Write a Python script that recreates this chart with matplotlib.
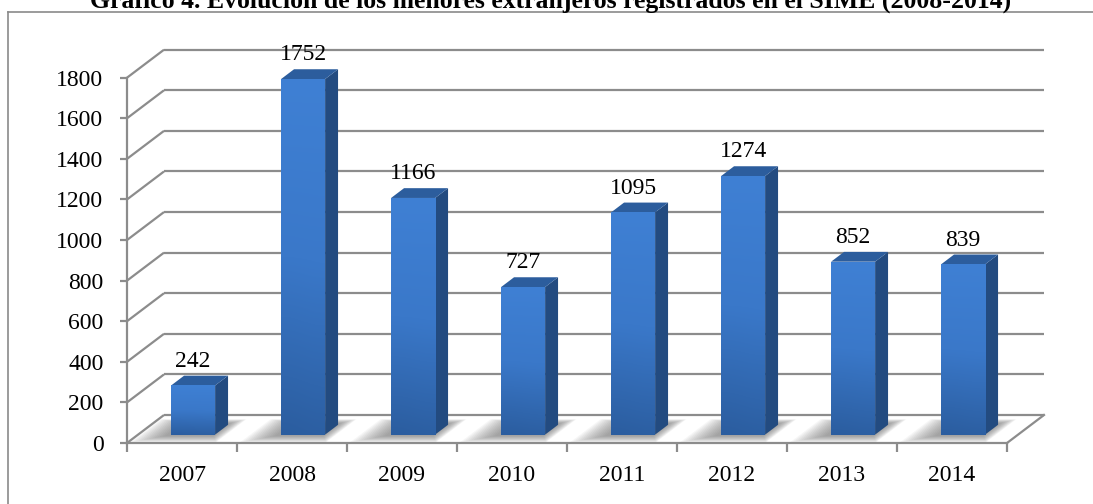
import numpy as np
import matplotlib
matplotlib.use('Agg')
import matplotlib.pyplot as plt
from matplotlib.patches import Polygon
from matplotlib.lines import Line2D
from matplotlib.colors import LinearSegmentedColormap

# ---- data ----
years = ['2007', '2008', '2009', '2010', '2011', '2012', '2013', '2014']
values = [242, 1752, 1166, 727, 1095, 1274, 852, 839]
yticks = [0, 200, 400, 600, 800, 1000, 1200, 1400, 1600, 1800]
title = 'Gráfico 4. Evolución de los menores extranjeros registrados en el SIME (2008-2014)'

# ---- figure / axes ----
W, H = 1093, 504
fig = plt.figure(figsize=(W / 100, H / 100), dpi=100)
fig.patch.set_facecolor('white')
ax_l, ax_r, ax_b, ax_t = 127, 1007, 443, 77.7
ax = fig.add_axes([ax_l / W, (H - ax_b) / H, (ax_r - ax_l) / W, (ax_b - ax_t) / H])
n = len(years)
ymax = yticks[-1]
ax.set_xlim(0, n)
ax.set_ylim(0, ymax)
ax.set_facecolor('none')

px_x = n / (ax_r - ax_l)          # data units per pixel (x)
px_y = ymax / (ax_b - ax_t)       # data units per pixel (y)
DX = 37 * px_x                    # depth offset
DY = 28 * px_y

grid_c = '#8c8c8c'
glw = 1.6


def P(x, f, v):
    return (x + f * DX, v + f * DY)


# floor
floor = Polygon([P(0, 0, 0), P(n, 0, 0), P(n, 1, 0), P(0, 1, 0)], closed=True,
                facecolor='white', edgecolor='none', zorder=1, clip_on=False)
ax.add_patch(floor)
ax.add_line(Line2D(*zip(P(n, 0, 0), P(n, 1, 0)), color=grid_c, lw=glw, zorder=2, clip_on=False))

# walls gridlines
for v in yticks:
    ax.add_line(Line2D(*zip(P(0, 0, v), P(0, 1, v)), color=grid_c, lw=glw, zorder=2, clip_on=False,
                       solid_capstyle='butt'))
    ax.add_line(Line2D(*zip(P(0, 1, v), P(n, 1, v)), color=grid_c, lw=glw, zorder=2, clip_on=False,
                       solid_capstyle='butt'))

# bars
bw = 0.4
f0, f1 = 0.30, 0.65
front_cmap = LinearSegmentedColormap.from_list('fr', ['#2b5d9f', '#3a78c9', '#3f80d4'])
for i, v in enumerate(values):
    cx = i + 0.5
    x0, x1 = cx - bw / 2, cx + bw / 2
    # shadow on floor
    N = 14
    for k in range(N):
        t = k / (N - 1)
        xa = x0 - (0.04 + 0.24 * t)
        xb = x1 + (0.0 + 0.10 * t)
        fa = max(0.0, f0 - 0.05 - 0.22 * t)
        fb = min(1.0, f1 + 0.05 + 0.15 * t)
        sh = Polygon([P(xa, fa, 0), P(xb, fa, 0), P(xb, fb, 0), P(xa, fb, 0)], closed=True,
                     facecolor='#666666', edgecolor='none', alpha=0.06, zorder=3, clip_on=False)
        ax.add_patch(sh)
    # side face
    side = Polygon([P(x1, f0, 0), P(x1, f1, 0), P(x1, f1, v), P(x1, f0, v)], closed=True,
                   facecolor='#234b80', edgecolor='none', zorder=4, clip_on=False)
    ax.add_patch(side)
    # top face
    top = Polygon([P(x0, f0, v), P(x1, f0, v), P(x1, f1, v), P(x0, f1, v)], closed=True,
                  facecolor='#2c5d9d', edgecolor='none', zorder=4, clip_on=False)
    ax.add_patch(top)
    # front face with gradient
    fx0, fy0 = P(x0, f0, 0)
    fx1, fy1 = P(x1, f0, v)
    grad = np.linspace(0, 1, 256).reshape(-1, 1)
    grad = np.hstack([grad, grad * 0.96 + 0.04])
    ax.imshow(grad, extent=[fx0, fx1, fy0, fy1], origin='lower', cmap=front_cmap,
              aspect='auto', interpolation='bicubic', zorder=5)
    # value label
    lx, ly = P(cx, f0, v)
    ax.text(lx, v + f1 * DY + 9 * px_y, str(v), ha='center', va='baseline',
            fontsize=17, family='Liberation Serif', color='black', zorder=6)

ax.set_xlim(0, n)
ax.set_ylim(0, ymax)

# spines / ticks
for s in ['top', 'right']:
    ax.spines[s].set_visible(False)
for s in ['left', 'bottom']:
    ax.spines[s].set_color(grid_c)
    ax.spines[s].set_linewidth(glw)
    ax.spines[s].set_zorder(2.5)

ax.set_yticks(yticks)
ax.set_yticklabels([str(t) for t in yticks], family='Liberation Serif', fontsize=17)
ax.tick_params(axis='y', direction='out', length=5, width=glw, color=grid_c, pad=12)

ax.set_xticks(np.arange(n + 1))
ax.set_xticklabels([])
ax.set_xticks(np.arange(n) + 0.5, minor=True)
ax.set_xticklabels(years, minor=True, family='Liberation Serif', fontsize=17)
ax.tick_params(axis='x', which='major', direction='out', length=6.5, width=glw, color=grid_c)
ax.tick_params(axis='x', which='minor', length=0, pad=16)

# chart border and title
fig.add_artist(Line2D([8 / W, 8 / W], [0, (H - 12) / H], color='#8a8a8a', lw=1.2,
                      transform=fig.transFigure))
fig.add_artist(Line2D([8 / W, 1], [(H - 12) / H, (H - 12) / H], color='#8a8a8a', lw=1.2,
                      transform=fig.transFigure))
fig.text(551 / W, (H - 8) / H, title, ha='center', va='baseline', fontsize=18.5,
         fontweight='bold', family='Liberation Serif')

fig.savefig('out.png', dpi=100, facecolor='white')
